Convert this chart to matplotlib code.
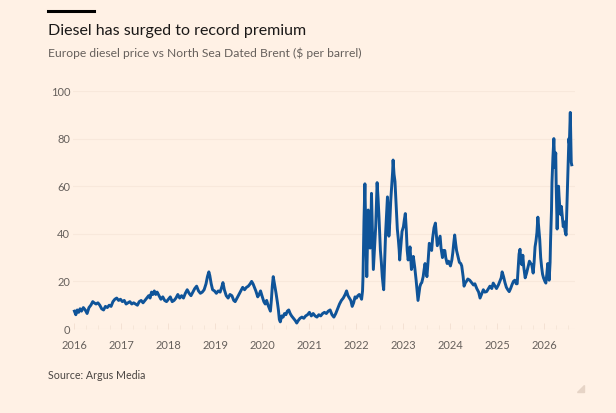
import matplotlib
matplotlib.use("Agg")
import matplotlib.pyplot as plt
from matplotlib.lines import Line2D
from matplotlib.patches import Polygon

plt.rcParams['font.family'] = ['Lato', 'DejaVu Sans']

# decimal year, premium in $ per barrel
years = [
    2016.00, 2016.03, 2016.06, 2016.09, 2016.12, 2016.15, 2016.19, 2016.23, 2016.27, 2016.31,
    2016.35, 2016.39, 2016.42, 2016.46, 2016.50, 2016.54, 2016.58, 2016.62, 2016.66, 2016.70,
    2016.74, 2016.78, 2016.82, 2016.86, 2016.90, 2016.94, 2016.98, 2017.02, 2017.06, 2017.10,
    2017.14, 2017.18, 2017.22, 2017.26, 2017.30, 2017.34, 2017.38, 2017.42, 2017.46, 2017.50,
    2017.54, 2017.58, 2017.61, 2017.64, 2017.67, 2017.70, 2017.73, 2017.76, 2017.80, 2017.84,
    2017.88, 2017.92, 2017.96, 2018.00, 2018.04, 2018.08, 2018.12, 2018.16, 2018.20, 2018.24,
    2018.28, 2018.32, 2018.36, 2018.40, 2018.44, 2018.48, 2018.52, 2018.56, 2018.60, 2018.64,
    2018.68, 2018.72, 2018.76, 2018.80, 2018.83, 2018.86, 2018.88, 2018.91, 2018.94, 2018.98,
    2019.02, 2019.06, 2019.10, 2019.14, 2019.16, 2019.19, 2019.23, 2019.27, 2019.31, 2019.35,
    2019.39, 2019.42, 2019.46, 2019.50, 2019.54, 2019.58, 2019.62, 2019.66, 2019.70, 2019.74,
    2019.77, 2019.80, 2019.83, 2019.86, 2019.90, 2019.93, 2019.96, 2019.99, 2020.03, 2020.06,
    2020.09, 2020.12, 2020.15, 2020.17, 2020.19, 2020.21, 2020.23, 2020.26, 2020.29, 2020.32,
    2020.34, 2020.36, 2020.38, 2020.41, 2020.44, 2020.47, 2020.50, 2020.53, 2020.56, 2020.59,
    2020.62, 2020.66, 2020.70, 2020.73, 2020.76, 2020.80, 2020.84, 2020.88, 2020.92, 2020.96,
    2021.00, 2021.04, 2021.08, 2021.12, 2021.16, 2021.20, 2021.24, 2021.28, 2021.32, 2021.36,
    2021.40, 2021.44, 2021.48, 2021.52, 2021.56, 2021.60, 2021.64, 2021.68, 2021.72, 2021.76,
    2021.79, 2021.82, 2021.85, 2021.88, 2021.91, 2021.94, 2021.97, 2022.00, 2022.03, 2022.06,
    2022.09, 2022.11, 2022.13, 2022.14, 2022.16, 2022.18, 2022.20, 2022.22, 2022.24, 2022.25,
    2022.27, 2022.29, 2022.31, 2022.32, 2022.34, 2022.36, 2022.38, 2022.41, 2022.43, 2022.44,
    2022.46, 2022.48, 2022.50, 2022.51, 2022.53, 2022.55, 2022.57, 2022.58, 2022.60, 2022.62,
    2022.64, 2022.66, 2022.68, 2022.69, 2022.71, 2022.73, 2022.75, 2022.77, 2022.78, 2022.80,
    2022.82, 2022.83, 2022.85, 2022.87, 2022.89, 2022.91, 2022.92, 2022.95, 2022.97, 2023.00,
    2023.02, 2023.04, 2023.06, 2023.08, 2023.10, 2023.12, 2023.14, 2023.16, 2023.17, 2023.19,
    2023.21, 2023.24, 2023.27, 2023.29, 2023.31, 2023.33, 2023.35, 2023.37, 2023.39, 2023.42,
    2023.44, 2023.46, 2023.48, 2023.50, 2023.53, 2023.55, 2023.58, 2023.60, 2023.62, 2023.65,
    2023.68, 2023.70, 2023.72, 2023.75, 2023.78, 2023.80, 2023.83, 2023.85, 2023.88, 2023.90,
    2023.93, 2023.96, 2024.00, 2024.03, 2024.05, 2024.07, 2024.09, 2024.11, 2024.13, 2024.16,
    2024.19, 2024.22, 2024.24, 2024.27, 2024.29, 2024.32, 2024.34, 2024.37, 2024.41, 2024.45,
    2024.49, 2024.52, 2024.56, 2024.60, 2024.63, 2024.66, 2024.70, 2024.73, 2024.77, 2024.81,
    2024.84, 2024.88, 2024.91, 2024.95, 2024.98, 2025.02, 2025.05, 2025.08, 2025.10, 2025.13,
    2025.16, 2025.19, 2025.22, 2025.25, 2025.28, 2025.31, 2025.34, 2025.37, 2025.40, 2025.42,
    2025.44, 2025.46, 2025.48, 2025.50, 2025.52, 2025.54, 2025.56, 2025.59, 2025.62, 2025.65,
    2025.68, 2025.71, 2025.73, 2025.76, 2025.78, 2025.80, 2025.82, 2025.84, 2025.86, 2025.88,
    2025.90, 2025.92, 2025.94, 2025.96, 2025.98, 2026.01, 2026.03, 2026.05, 2026.07, 2026.09,
    2026.10, 2026.12, 2026.13, 2026.15, 2026.16, 2026.18, 2026.20, 2026.21, 2026.22, 2026.24,
    2026.25, 2026.27, 2026.28, 2026.30, 2026.31, 2026.33, 2026.35, 2026.36, 2026.38, 2026.40,
    2026.42, 2026.44, 2026.46, 2026.47, 2026.48, 2026.50, 2026.51, 2026.52, 2026.53, 2026.55,
    2026.56, 2026.57, 2026.58,
]
premium = [
    7.5, 6.0, 8.0, 7.0, 8.5, 7.5, 9.0, 8.0, 6.5, 9.0,
    10.0, 11.5, 11.0, 10.5, 11.0, 10.0, 8.5, 8.0, 9.5, 9.0,
    10.0, 9.5, 11.5, 12.5, 13.0, 12.0, 12.5, 11.5, 12.0, 10.5,
    11.0, 11.5, 10.5, 11.0, 10.5, 10.0, 11.5, 12.0, 11.0, 12.0,
    13.0, 14.0, 13.0, 15.5, 14.5, 16.0, 14.5, 15.5, 14.0, 12.5,
    13.5, 12.0, 11.5, 12.5, 13.5, 11.5, 12.0, 13.0, 14.5, 13.0,
    14.0, 13.0, 15.0, 16.5, 15.0, 14.0, 15.5, 17.0, 18.0, 16.0,
    15.0, 15.5, 16.5, 19.0, 22.0, 24.0, 22.5, 19.0, 16.5, 16.0,
    15.0, 16.0, 15.5, 18.0, 19.5, 16.5, 14.0, 13.0, 14.5, 14.0,
    12.0, 11.5, 13.0, 14.5, 16.0, 17.5, 16.5, 17.5, 18.0, 19.0,
    20.0, 19.0, 17.5, 16.0, 13.5, 14.5, 16.0, 14.0, 11.5, 10.5,
    12.0, 10.0, 8.5, 7.5, 12.0, 18.0, 22.0, 18.5, 15.0, 11.0,
    8.0, 4.0, 3.0, 5.5, 5.0, 6.5, 6.0, 7.5, 8.0, 6.5,
    5.5, 4.5, 3.5, 2.5, 3.5, 4.5, 5.0, 4.5, 5.5, 6.0,
    7.0, 5.5, 6.5, 5.5, 5.0, 6.0, 5.5, 6.5, 7.0, 6.5,
    7.5, 8.0, 6.0, 5.0, 6.5, 8.5, 10.5, 12.0, 13.0, 14.5,
    16.0, 14.0, 13.0, 12.0, 9.5, 11.0, 13.5, 13.0, 14.0, 14.5,
    13.5, 12.5, 16.0, 22.0, 45.0, 61.0, 40.0, 22.0, 40.0, 50.0,
    42.0, 34.0, 45.0, 57.0, 40.0, 25.0, 32.0, 43.0, 55.0, 61.5,
    55.0, 47.0, 38.0, 33.0, 28.0, 22.0, 18.0, 16.5, 28.0, 40.0,
    48.0, 55.5, 47.0, 39.0, 45.0, 54.0, 60.0, 66.0, 71.0, 65.0,
    62.0, 58.0, 50.0, 42.0, 38.0, 33.0, 29.0, 36.0, 41.0, 43.0,
    46.0, 48.5, 42.0, 33.0, 29.0, 31.0, 34.5, 28.0, 25.0, 27.0,
    30.5, 26.0, 20.5, 16.0, 12.0, 15.0, 17.8, 19.0, 19.5, 22.0,
    25.0, 27.5, 24.0, 22.0, 30.0, 36.0, 35.0, 33.0, 38.0, 42.5,
    44.5, 40.0, 35.0, 37.0, 39.0, 34.0, 30.0, 33.0, 33.0, 30.0,
    27.5, 28.5, 26.5, 29.0, 32.0, 36.0, 39.5, 36.0, 33.0, 30.5,
    28.0, 27.5, 26.5, 22.0, 18.0, 19.5, 20.0, 21.0, 20.5, 19.5,
    18.5, 19.0, 17.0, 15.5, 13.0, 14.5, 16.5, 15.5, 15.7, 17.0,
    18.0, 17.0, 19.3, 18.0, 17.0, 18.5, 20.0, 21.5, 24.0, 22.0,
    19.5, 17.5, 16.5, 15.7, 17.0, 18.6, 20.0, 20.5, 19.0, 19.0,
    25.0, 31.5, 33.5, 28.0, 27.0, 31.0, 26.0, 21.5, 23.5, 26.0,
    28.5, 27.5, 27.0, 23.5, 28.0, 34.5, 37.0, 40.5, 47.0, 42.0,
    37.5, 30.0, 26.0, 23.0, 21.5, 20.0, 19.3, 23.0, 27.5, 24.0,
    20.5, 28.0, 37.0, 50.0, 61.5, 72.0, 80.0, 74.0, 68.0, 74.0,
    60.0, 42.0, 50.0, 60.0, 56.0, 50.0, 48.0, 51.5, 47.0, 43.0,
    45.0, 41.0, 39.5, 46.0, 54.0, 66.0, 73.0, 80.0, 78.0, 91.0,
    80.0, 70.0, 69.0,
]

y_ticks = [0, 20, 40, 60, 80, 100]
x_ticks = list(range(2016, 2027))

bg = '#FFF1E5'
grey = '#66605C'
blue = '#0F5499'

W, H = 616, 413
fig = plt.figure(figsize=(W / 100, H / 100), dpi=100, facecolor=bg)

# axes box in pixels: x 73..575, y 91..329
ax = fig.add_axes([73 / W, 1 - 329 / H, (575 - 73) / W, (329 - 91) / H], facecolor=bg)
ax.plot(years, premium, color=blue, lw=2.1, solid_joinstyle='round', clip_on=False, zorder=3)

ax.set_ylim(0, 100)
ax.set_yticks(y_ticks)
ax.set_xticks(x_ticks)
ax.set_xticks([y + q / 4 for y in range(2016, 2027) for q in (1, 2, 3)], minor=True)
ax.set_xlim(2015.97, 2026.65)
ax.grid(axis='y', color='#F8E8DB', lw=0.8, zorder=0)
for s in ax.spines.values():
    s.set_visible(False)
ax.tick_params(axis='y', length=0, pad=2, labelsize=8, labelcolor=grey)
ax.tick_params(axis='x', which='major', length=4, width=0.6, color='#F2DFD0',
               pad=8, labelsize=8, labelcolor=grey, direction='in')
ax.tick_params(axis='x', which='minor', length=3, width=0.6, color='#F5E4D6', direction='in')

# header and footer
fig.add_artist(Line2D([48 / W, 94 / W], [1 - 11.3 / H] * 2, color='black', lw=2.2))
fig.text(48 / W, 1 - 35 / H, 'Diesel has surged to record premium', fontsize=11.5,
         color='#1A1817', va='baseline', ha='left')
fig.text(48 / W, 1 - 57.3 / H, 'Europe diesel price vs North Sea Dated Brent ($ per barrel)',
         fontsize=8.7, color=grey, va='baseline', ha='left')
fig.text(48 / W, 1 - 379.3 / H, 'Source: Argus Media', fontsize=7.7, color='#4A4542',
         va='baseline', ha='left')
fig.add_artist(Polygon([[584 / W, 1 - 385 / H], [584 / W, 1 - 392 / H], [577 / W, 1 - 392 / H]],
                       closed=True, color='#E6D4C6', transform=fig.transFigure))

fig.savefig('out.png', dpi=100, facecolor=bg)
